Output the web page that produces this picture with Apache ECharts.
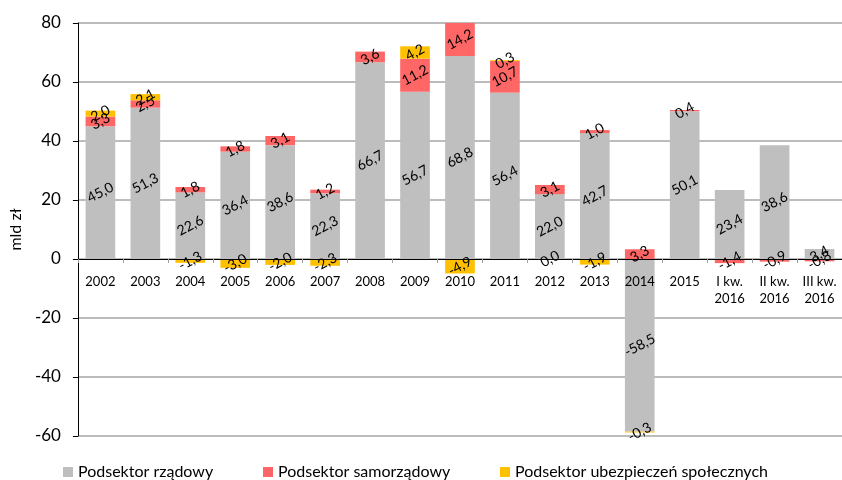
<!DOCTYPE html>
<html>
<head>
<meta charset="utf-8">
<script src="https://cdn.jsdelivr.net/npm/echarts@6/dist/echarts.min.js"></script>
<style>
  html, body { margin: 0; padding: 0; background: #fff; }
  #main { width: 842px; height: 480px; }
</style>
</head>
<body>
<div id="main"></div>
<script>
var categories = ['2002', '2003', '2004', '2005', '2006', '2007', '2008', '2009', '2010', '2011',
  '2012', '2013', '2014', '2015', 'I kw.\n2016', 'II kw.\n2016', 'III kw.\n2016'];
var rzadowy = [45.0, 51.3, 22.6, 36.4, 38.6, 22.3, 66.7, 56.7, 68.8, 56.4, 22.0, 42.7, -58.5, 50.1, 23.4, 38.6, 3.4];
var samorzadowy = [3.3, 2.5, 1.8, 1.8, 3.1, 1.2, 3.6, 11.2, 14.2, 10.7, 3.1, 1.0, 3.3, 0.4, -1.4, -0.9, -0.8];
// 2012: shown as "0,0", taken as a tiny negative so it sits at the zero line
var ubezpieczen = [2.0, 2.1, -1.3, -3.0, -2.0, -2.3, null, 4.2, -4.9, 0.3, -0.01, -1.9, -0.3, null, null, null, null];
var yTicks = { min: -60, max: 80, interval: 20 };

var chartDom = document.getElementById('main');
var myChart = echarts.init(chartDom);
var option;

var fontFam = 'Lato, "Open Sans", sans-serif';
var gridTop = 23, gridBottom = 44;
var plotH = 480 - gridTop - gridBottom;
// distance from bottom of plot to the zero line
var zeroOffset = plotH * (0 - yTicks.min) / (yTicks.max - yTicks.min);

function fmt(p) {
  var v = p.value;
  if (v === null || v === undefined) return '';
  if (Math.abs(v) < 0.05) return '0,0';
  return v.toFixed(1).replace('.', ',');
}

var labelStyle = {
  show: true,
  position: 'inside',
  rotate: 28,
  formatter: fmt,
  color: '#000',
  fontSize: 14,
  fontFamily: fontFam
};

function bar(name, data, color) {
  return {
    name: name,
    type: 'bar',
    stack: 'total',
    barWidth: '66%',
    data: data,
    itemStyle: { color: color },
    label: labelStyle
  };
}

function legendItem(name, left) {
  return {
    data: [name],
    left: left,
    top: 464,
    padding: 0,
    itemWidth: 10,
    itemHeight: 10,
    itemGap: 0,
    icon: 'rect',
    textStyle: { fontSize: 16, color: '#000', fontFamily: fontFam }
  };
}

option = {
  animation: false,
  textStyle: { fontFamily: fontFam },
  grid: { left: 70, right: 0, top: gridTop, bottom: gridBottom },
  legend: [
    legendItem('Podsektor rządowy', 63),
    legendItem('Podsektor samorządowy', 263),
    legendItem('Podsektor ubezpieczeń społecznych', 500)
  ],
  xAxis: {
    type: 'category',
    data: categories,
    z: 5,
    offset: -zeroOffset,
    axisLine: { onZero: false, lineStyle: { color: '#000', width: 1 } },
    axisTick: { show: true, length: 4, lineStyle: { color: '#a0a0a0' } },
    axisLabel: { color: '#000', fontSize: 13, lineHeight: 17, margin: 14, interval: 0, fontFamily: fontFam }
  },
  yAxis: {
    type: 'value',
    min: yTicks.min,
    max: yTicks.max,
    interval: yTicks.interval,
    name: 'mld zł',
    nameLocation: 'middle',
    nameGap: 52,
    nameTextStyle: { fontSize: 16, color: '#000', fontFamily: fontFam },
    axisLine: { show: true, lineStyle: { color: '#000' } },
    axisTick: { show: true, length: 5, lineStyle: { color: '#000' } },
    axisLabel: { color: '#000', fontSize: 17, margin: 17, fontFamily: fontFam },
    splitLine: { lineStyle: { color: '#a6a6a6', width: 1.5 } }
  },
  series: [
    bar('Podsektor rządowy', rzadowy, '#bfbfbf'),
    bar('Podsektor samorządowy', samorzadowy, '#ff6666'),
    bar('Podsektor ubezpieczeń społecznych', ubezpieczen, '#ffc000')
  ]
};

option && myChart.setOption(option);
</script>
</body>
</html>
